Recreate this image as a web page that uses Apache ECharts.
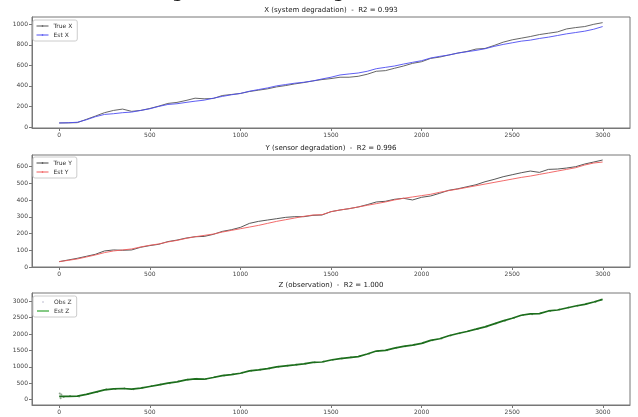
<!DOCTYPE html>
<html>
<head>
<meta charset="utf-8">
<script src="https://cdn.jsdelivr.net/npm/echarts@6/dist/echarts.min.js"></script>
<style>
html,body{margin:0;padding:0;background:#fff;}
#c{width:638px;height:417px;}
</style>
</head>
<body>
<div id="c"></div>
<script>
// ---- data ----
const steps = [0,50,100,150,200,250,300,350,400,450,500,550,600,650,700,750,800,850,900,950,1000,1050,1100,1150,1200,1250,1300,1350,1400,1450,1500,1550,1600,1650,1700,1750,1800,1850,1900,1950,2000,2050,2100,2150,2200,2250,2300,2350,2400,2450,2500,2550,2600,2650,2700,2750,2800,2850,2900,2950,2999];
const trueX = [39,40,42,74,106,139,161,174,152,161,180,203,229,239,258,280,274,277,306,316,326,345,358,371,390,403,419,432,448,461,471,484,484,493,513,542,548,571,593,619,635,667,680,700,719,735,758,764,793,825,848,864,880,899,912,925,954,967,977,999,1015];
const estX = [39,41,46,70,100,122,129,139,145,161,177,200,219,226,239,251,261,280,297,313,326,348,364,380,400,413,426,435,448,467,484,506,516,525,542,567,580,593,612,629,645,671,687,700,719,732,745,761,784,803,819,835,845,861,874,890,906,919,932,951,977];
const trueY = [32,42,52,64,76,96,102,100,102,118,128,136,152,161,173,181,183,195,213,223,237,261,273,281,289,297,301,301,309,311,331,341,349,359,373,389,393,405,411,401,417,425,441,459,468,480,492,510,524,540,552,564,574,566,584,586,592,600,616,628,640];
const estY = [32,40,48,60,72,86,96,102,108,120,130,138,150,159,171,181,189,197,209,219,229,239,249,261,273,283,293,303,311,313,331,341,349,359,369,379,389,401,411,419,427,435,447,457,466,476,486,496,506,516,526,536,544,554,564,574,584,594,610,622,628];
const estZ = [100,100,110,161,232,302,332,342,322,352,403,453,503,544,604,634,624,675,735,765,806,876,906,947,997,1027,1057,1088,1138,1148,1208,1249,1279,1309,1390,1480,1500,1571,1621,1662,1712,1803,1853,1944,2014,2075,2145,2216,2306,2397,2477,2568,2608,2618,2699,2729,2790,2850,2900,2971,3051];
const obsSteps = [3,8,12,25,60,110,160,210,260,310,360,410,460,510,560,610,660,710,760,810,860,910,960,1010,1060,1110,1160,1210,1260,1310,1360,1410,1460,1510,1560,1610,1660,1710,1760,1810,1860,1910,1960,2010,2060,2110,2160,2210,2260,2310,2360,2410,2460,2510,2560,2610,2660,2710,2760,2810,2860,2910,2960,2990];
const obsZ = [190,45,160,80,112,98,178,236,318,325,350,318,368,420,462,500,560,612,640,628,690,740,772,820,880,915,950,1002,1035,1066,1095,1140,1160,1215,1252,1290,1330,1400,1485,1502,1580,1628,1668,1730,1810,1860,1950,2020,2090,2150,2230,2315,2400,2485,2575,2600,2635,2700,2740,2805,2860,2915,2975,3040];
const xTicks = [0,500,1000,1500,2000,2500,3000];
const yTicksX = [0,200,400,600,800,1000];
const yTicksY = [0,100,200,300,400,500,600];
const yTicksZ = [0,500,1000,1500,2000,2500,3000];
const titles = ['X (system degradation)  -  R2 = 0.993','Y (sensor degradation)  -  R2 = 0.996','Z (observation)  -  R2 = 1.000'];
const suptitle = 'Degradation Tracking (Kalman Filter)';

const pair = (xs, ys) => xs.map((x, i) => [x, ys[i]]);
const FONT = 'DejaVu Sans';
const axisCol = '#777';
const plain = v => String(v);
const grids = [
  {left: 32, right: 8, top: 17, height: 111},
  {left: 32, right: 8, top: 155, height: 112},
  {left: 32, right: 8, top: 293, height: 112}
].map(g => Object.assign(g, {show: true, borderColor: axisCol, borderWidth: 1, backgroundColor: '#fff'}));

function xAxis(i) {
  return {
    type: 'value', gridIndex: i, min: -150, max: 3150,
    splitLine: {show: false},
    axisLine: {show: true, onZero: false, lineStyle: {color: axisCol}},
    axisTick: {show: true, length: 3, customValues: xTicks, lineStyle: {color: axisCol}},
    axisLabel: {customValues: xTicks, formatter: plain, fontSize: 6, color: '#444', fontFamily: FONT, margin: 4}
  };
}
function yAxis(i, min, max, ticks) {
  return {
    type: 'value', gridIndex: i, min: min, max: max,
    splitLine: {show: false},
    axisLine: {show: true, onZero: false, lineStyle: {color: axisCol}},
    axisTick: {show: true, length: 3, customValues: ticks, lineStyle: {color: axisCol}},
    axisLabel: {customValues: ticks, formatter: plain, fontSize: 6, color: '#444', fontFamily: FONT, margin: 4}
  };
}
function legend(top, items) {
  return {
    left: 33, top: top, orient: 'vertical',
    itemWidth: 12, itemHeight: 2, itemGap: 3,
    padding: [3, 5, 3, 3],
    borderColor: '#ccc', borderWidth: 1, borderRadius: 2, backgroundColor: '#fff',
    lineStyle: {width: 1},
    textStyle: {fontSize: 6, color: '#333', fontFamily: FONT},
    data: items
  };
}
function line(name, i, data, color, width) {
  return {
    name: name, type: 'line', xAxisIndex: i, yAxisIndex: i, data: data,
    symbol: 'none', lineStyle: {color: color, width: width}, itemStyle: {color: color},
    animation: false, silent: true
  };
}

const option = {
  animation: false,
  backgroundColor: '#fff',
  title: titles.map((t, i) => ({
    text: t, left: 331, textAlign: 'center', top: [7, 145, 282][i],
    textStyle: {fontSize: 7, fontWeight: 'normal', color: '#222', fontFamily: FONT}, padding: 0
  })),
  graphic: [{
    type: 'text', x: 319, y: -15, z: -10,
    style: {text: suptitle, font: 'bold 16px "DejaVu Serif"', fill: '#111', align: 'center'}
  }],
  grid: grids,
  xAxis: [xAxis(0), xAxis(1), xAxis(2)],
  yAxis: [yAxis(0, -10, 1070, yTicksX), yAxis(1, 0, 670, yTicksY), yAxis(2, -160, 3245, yTicksZ)],
  legend: [
    legend(20, ['True X', 'Est X']),
    legend(157, ['True Y', 'Est Y']),
    legend(296, [{name: 'Obs Z', icon: 'circle', itemStyle: {color: '#c9c9d9'}},
                 {name: 'Est Z', itemStyle: {color: '#85c985'}, lineStyle: {color: '#85c985', width: 2}}])
  ],
  series: [
    line('True X', 0, pair(steps, trueX), '#555555', 0.9),
    line('Est X', 0, pair(steps, estX), '#4d4df2', 0.9),
    line('True Y', 1, pair(steps, trueY), '#444444', 0.9),
    line('Est Y', 1, pair(steps, estY), '#f05a5a', 0.9),
    {name: 'Obs Z', type: 'scatter', xAxisIndex: 2, yAxisIndex: 2, data: pair(obsSteps, obsZ),
     symbolSize: 2, itemStyle: {color: 'rgba(20,70,20,0.6)'}, silent: true, animation: false},
    line('Est Z', 2, pair(steps, estZ), '#1c6e1c', 1.7)
  ]
};
echarts.init(document.getElementById('c'), null, {renderer: 'canvas'}).setOption(option);
</script>
</body>
</html>
